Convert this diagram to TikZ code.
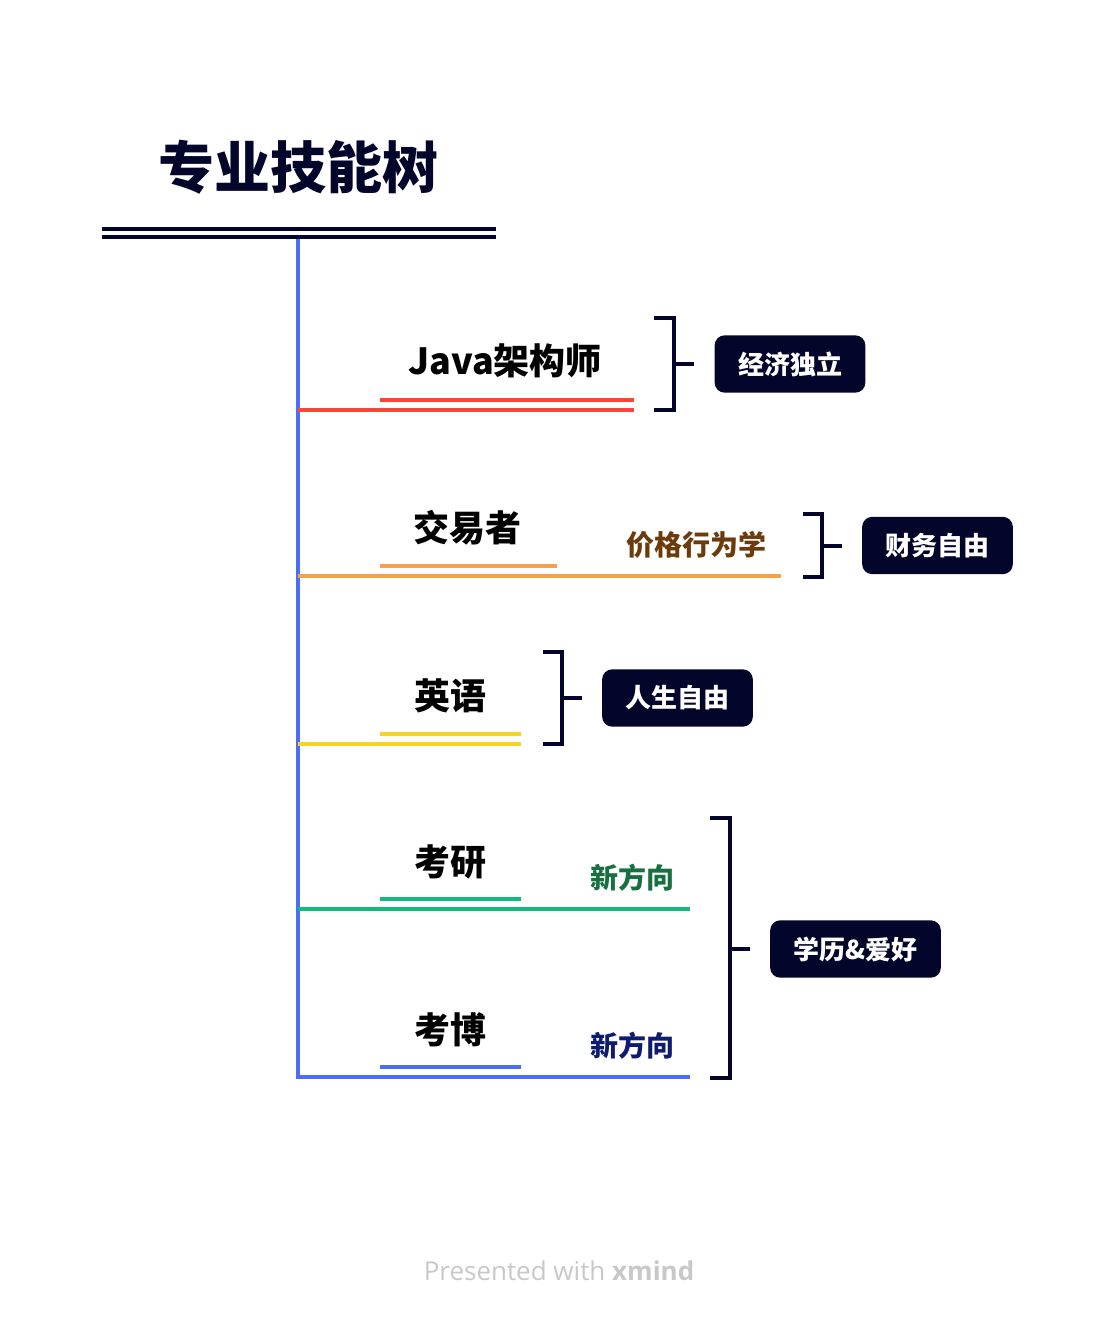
\documentclass[tikz,border=0pt]{standalone}
\usepackage{fontspec}
\setmainfont{Open Sans}
\newfontfamily\cjk{Noto Sans CJK SC}
\usetikzlibrary{calc,positioning}

\definecolor{navy}{HTML}{03052B}
\definecolor{trunk}{HTML}{4B6EF5}
\definecolor{bred}{HTML}{FF4538}
\definecolor{borange}{HTML}{F7A04B}
\definecolor{byellow}{HTML}{F5D327}
\definecolor{bgreen}{HTML}{10BA7A}
\definecolor{brown}{HTML}{6B3B0C}
\definecolor{dkgreen}{HTML}{17703F}
\definecolor{dkblue}{HTML}{0E1B6E}
\definecolor{footgray}{HTML}{C8C8C8}

\begin{document}
\begin{tikzpicture}[x=0.75pt,y=-0.75pt,
    branch/.style={line width=3pt},
    brk/.style={line width=3pt,draw=navy},
    tag/.style={fill=navy,text=white,rounded corners=7.5pt,inner sep=0pt,
      minimum width=113pt,minimum height=43pt,
      font=\cjk\bfseries\fontsize{19.5}{22}\selectfont},
    topic/.style={font=\cjk\bfseries\fontsize{27}{30}\selectfont,inner sep=0pt},
    note/.style={font=\cjk\bfseries\fontsize{21}{24}\selectfont,inner sep=0pt}]

        \useasboundingbox (0,0) rectangle (1114,1320);

        % タイトル
        \node[font=\cjk\bfseries\fontsize{42}{47}\selectfont,text=navy,inner sep=0pt] (title) at (298,167) {专业技能树};
        \draw[navy,line width=3pt] (102,229) -- (496,229) (102,237) -- (496,237);

        % 幹
        \coordinate (root) at (298,239);
        \coordinate (bottom) at (298,1079);
        \draw[trunk,line width=3pt] (root) -- (bottom);

        % Java架构师
        \coordinate (b1) at (298,410);
        \node[topic] (java) at (505,361) {Java架构师};
        \draw[branch,bred] (b1) -- (634,410);
        \draw[branch,bred] (380,400) -- (634,400); %下線
        \node[tag] (econ) at (790,364) {经济独立};
        \draw[brk] (654,318) -- (674,318) -- (674,410) -- (654,410);
        \draw[brk] (674,364) -- ($(econ.west)+(-20,0)$);

        % 交易者
        \coordinate (b2) at (298,576);
        \node[topic] (trader) at (467,528) {交易者};
        \draw[branch,borange] (b2) -- (781,576);
        \draw[branch,borange] (380,566) -- (557,566); %下線
        \node[note,text=brown] (price) at (696,545) {价格行为学};
        \node[tag] (money) at (937.5,545.5) {财务自由};
        \draw[brk] (803,514) -- (822,514) -- (822,577) -- (803,577);
        \draw[brk] (822,545.5) -- ($(money.west)+(-20,0)$);

        % 英语
        \coordinate (b3) at (298,744);
        \node[topic] (eng) at (450,696) {英语};
        \draw[branch,byellow] (b3) -- (521,744);
        \draw[branch,byellow] (380,734) -- (521,734); %下線
        \node[tag] (life) at (677.5,698) {人生自由};
        \draw[brk] (543,652) -- (562,652) -- (562,744) -- (543,744);
        \draw[brk] (562,698) -- ($(life.west)+(-20,0)$);

        % 考研
        \coordinate (b4) at (298,909);
        \node[topic] (ky) at (450,862) {考研};
        \draw[branch,bgreen] (b4) -- (690,909);
        \draw[branch,bgreen] (380,899) -- (521,899); %下線
        \node[note,text=dkgreen] (dir1) at (632,878) {新方向};

        % 考博
        \coordinate (b5) at (298,1077);
        \node[topic] (kb) at (450,1030) {考博};
        \draw[branch,trunk] (b5) -- (690,1077);
        \draw[branch,trunk] (380,1067) -- (521,1067); %下線
        \node[note,text=dkblue] (dir2) at (632,1046) {新方向};

        % 学历&爱好
        \node[tag,minimum width=128pt] (edu) at (855.5,949) {学历\&爱好};
        \draw[brk] (710,818) -- (730,818) -- (730,1078) -- (710,1078);
        \draw[brk] (730,949) -- ($(edu.west)+(-20,0)$);

        % フッター
        \node[text=footgray,font=\fontsize{19.5}{23}\selectfont,inner sep=0pt] (foot) at (559,1271) {Presented with \textbf{xmind}};

\end{tikzpicture}
\end{document}
